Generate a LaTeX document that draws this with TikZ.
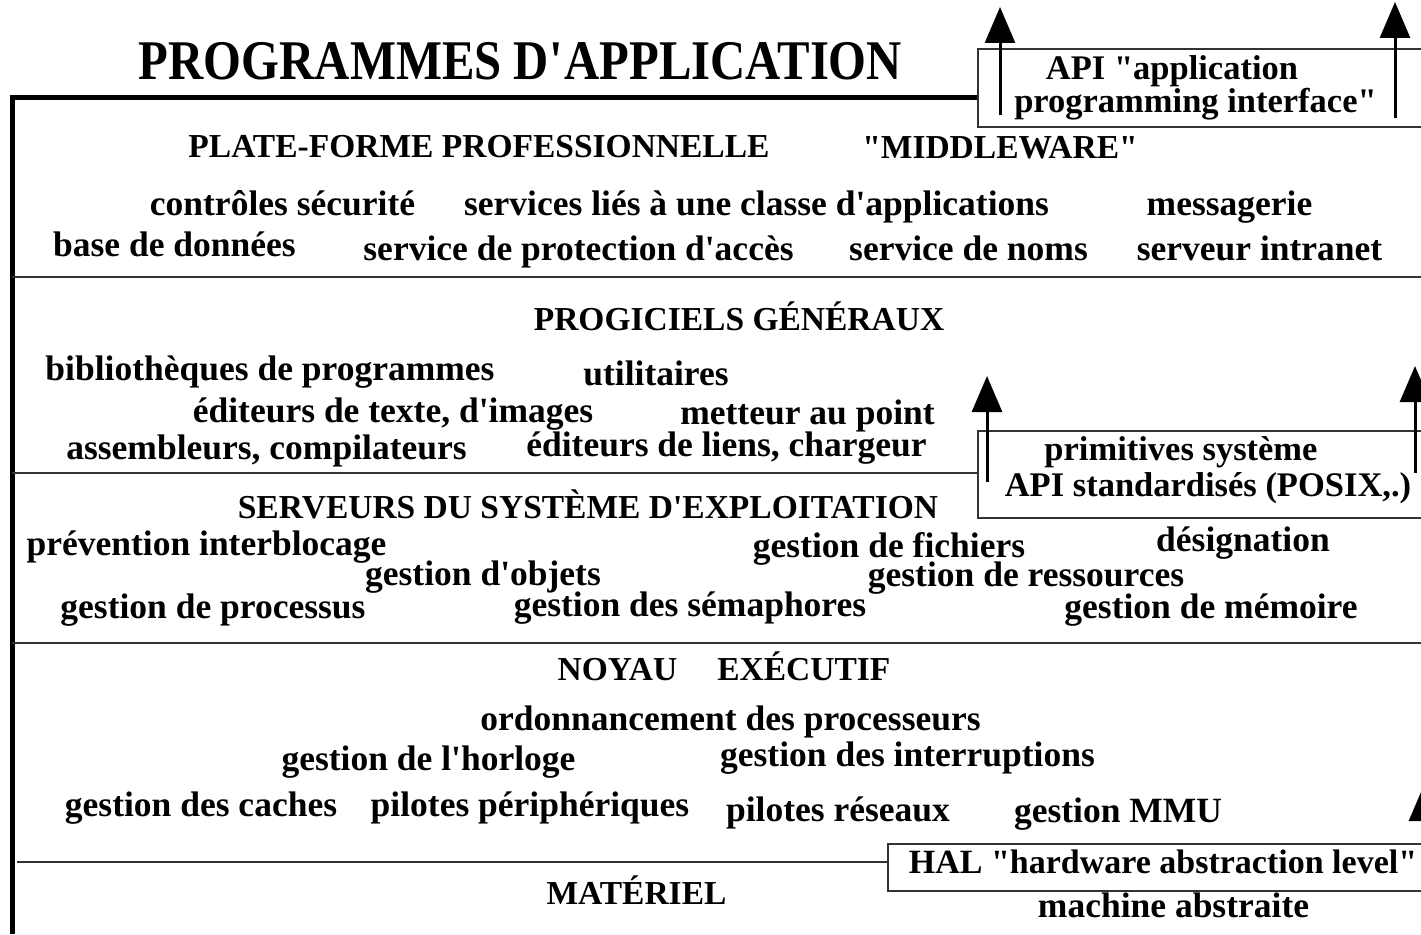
\documentclass[tikz,border=0pt]{standalone}
\usepackage{fontspec}
\newfontfamily\bodyfont{Liberation Serif}
\newfontfamily\titlefont{Liberation Serif}[FakeStretch=0.87]
\usepackage{tikz}
\usetikzlibrary{arrows.meta}
\newcommand\q{\textquotesingle}
\newcommand\qq{\textquotedbl}
\tikzset{
	item/.style={font=\bodyfont\fontsize{35.5}{40}\selectfont\bfseries,inner sep=0pt,anchor=base},
	boxtext/.style={font=\bodyfont\fontsize{34.5}{40}\selectfont\bfseries,inner sep=0pt,anchor=base},
	head/.style={font=\bodyfont\fontsize{33.5}{36}\selectfont\bfseries,inner sep=0pt,anchor=base},
	layer/.style={line width=1.5pt,black!80},
	ifbox/.style={draw,line width=1.5pt,black!80},
	up/.style={line width=3pt,-{Triangle[length=36pt,width=30pt]}}
}
\begin{document}
\begin{tikzpicture}[x=1pt,y=-1pt]
	\useasboundingbox (0,0) rectangle (1421,934);
	\clip (0,0) rectangle (1421,934);
	\draw [line width=5pt] (12,934) -- (12,97) -- (978,97);
	\draw [layer] (12,277) -- (1421,277);
	\draw [layer] (12,473) -- (978,473);
	\draw [layer] (12,643) -- (1421,643);
	\draw [layer] (17,862) -- (888,862);
	\draw [ifbox] (978,49) rectangle (1440,127);
	\draw [ifbox] (978,431) rectangle (1440,518);
	\draw [ifbox] (888,844) rectangle (1440,891);
	\coordinate (api1) at (1000,115);
	\coordinate (api1t) at (1000,7);
	\coordinate (api2) at (1395,118);
	\coordinate (api2t) at (1395,2);
	\coordinate (sys1) at (987,482);
	\coordinate (sys1t) at (987,376);
	\coordinate (sys2) at (1415,473);
	\coordinate (sys2t) at (1415,366);
	\coordinate (hal1) at (1424,850);
	\coordinate (hal1t) at (1424,785);
	\draw [up] (api1) -- (api1t);
	\draw [up] (api2) -- (api2t);
	\draw [up] (sys1) -- (sys1t);
	\draw [up] (sys2) -- (sys2t);
	\draw [up] (hal1) -- (hal1t);
	\node [inner sep=0pt,anchor=base,font=\titlefont\fontsize{56}{60}\selectfont\bfseries] (title) at (520.5,79) {PROGRAMMES D\q APPLICATION};
	\node [boxtext] (apia) at (1172,80) {API \qq application};
	\node [boxtext] (apib) at (1195.5,112) {programming interface\qq};
	\node [head] (plate) at (479,157) {PLATE-FORME PROFESSIONNELLE};
	\node [head] (middle) at (1000,158) {\qq MIDDLEWARE\qq};
	\node [item] (secu) at (282.5,215) {contrôles sécurité};
	\node [item] (classe) at (756.5,215) {services liés à une classe d\q applications};
	\node [item] (mess) at (1229.5,215) {messagerie};
	\node [item] (bdd) at (174.5,256) {base de données};
	\node [item] (protec) at (578.5,260) {service de protection d\q accès};
	\node [item] (noms) at (968.5,260) {service de noms};
	\node [item] (intra) at (1259.5,260) {serveur intranet};
	\node [head] (progi) at (739,330) {PROGICIELS GÉNÉRAUX};
	\node [item] (biblio) at (270,380) {bibliothèques de programmes};
	\node [item] (util) at (656,385) {utilitaires};
	\node [item] (edit) at (393,422) {éditeurs de texte, d\q images};
	\node [item] (mettr) at (807.5,424) {metteur au point};
	\node [item] (assem) at (266.5,459) {assembleurs, compilateurs};
	\node [item] (liens) at (726.5,456) {éditeurs de liens, chargeur};
	\node [boxtext] (prima) at (1181,460) {primitives système};
	\node [boxtext] (primb) at (1208,496) {API standardisés (POSIX,.)};
	\node [head] (serv) at (588,518) {SERVEURS DU SYSTÈME D\q EXPLOITATION};
	\node [item] (inter) at (206.5,555) {prévention interblocage};
	\node [item] (fich) at (889,557) {gestion de fichiers};
	\node [item] (desig) at (1243,551) {désignation};
	\node [item] (objet) at (483,585) {gestion d\q objets};
	\node [item] (ress) at (1026,586) {gestion de ressources};
	\node [item] (proc) at (213,618) {gestion de processus};
	\node [item] (sema) at (690,616) {gestion des sémaphores};
	\node [item] (memo) at (1211,618) {gestion de mémoire};
	\node [head] (noyau) at (724,680) {NOYAU\hspace{40pt}EXÉCUTIF};
	\node [item] (ordo) at (730.5,730) {ordonnancement des processeurs};
	\node [item] (horl) at (428.5,770) {gestion de l\q horloge};
	\node [item] (irq) at (907.5,766) {gestion des interruptions};
	\node [item] (cache) at (201,816) {gestion des caches};
	\node [item] (pper) at (530,816) {pilotes périphériques};
	\node [item] (pres) at (838,821) {pilotes réseaux};
	\node [item] (mmu) at (1118,822) {gestion MMU};
	\node [boxtext,font=\bodyfont\fontsize{34}{40}\selectfont\bfseries] (hal) at (1163,873) {HAL \qq hardware abstraction level\qq};
	\node [head] (mat) at (636.5,904) {MATÉRIEL};
	\node [item] (mach) at (1173.5,917) {machine abstraite};
\end{tikzpicture}
\end{document}
